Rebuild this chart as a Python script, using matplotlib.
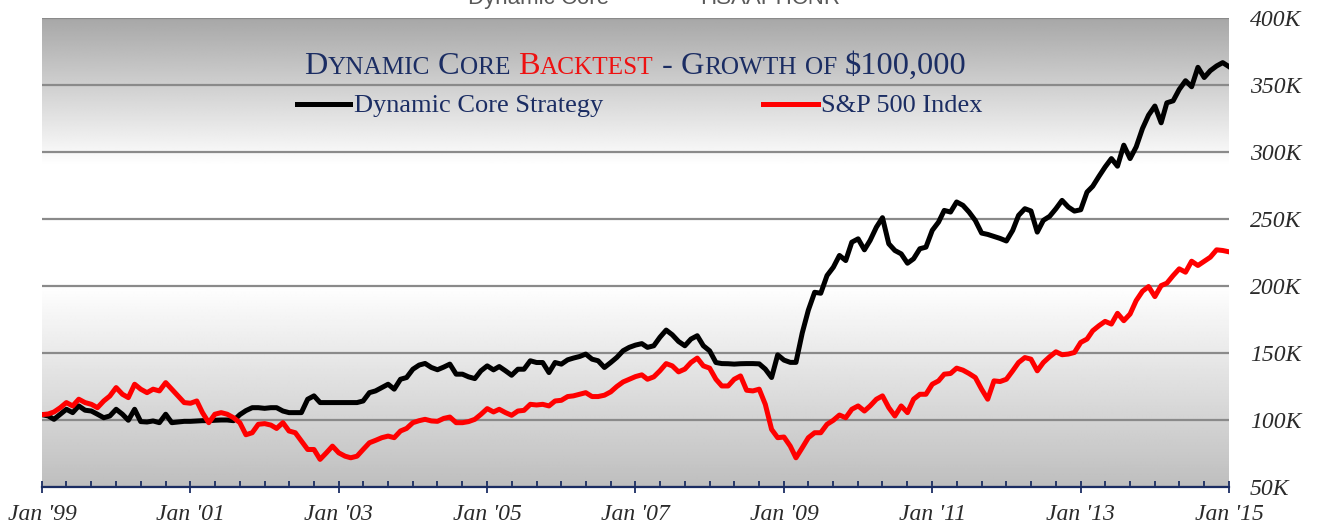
import numpy as np
import pandas as pd
import matplotlib
matplotlib.use("Agg")
import matplotlib.pyplot as plt
import matplotlib.dates as mdates
from matplotlib.ticker import FuncFormatter, FixedLocator
from matplotlib.lines import Line2D

# ---------------- data (values in $K, monthly Jan 1999 .. Jan 2015) ----------------
start_month = "1999-01-01"
dynamic_core = [
    104, 103, 100.5, 104.3, 108, 105.5, 110.5, 107.3, 106.7, 104.3,
    101.7, 103, 108, 104.3, 99.8, 108, 98.8, 98.5, 99.3, 98,
    104.3, 98, 98.5, 99, 99, 99.3, 99.5, 99.5, 99.8, 100,
    100, 99.5, 104, 107, 109.2, 109.2, 108.7, 109.2, 109.2, 106.7,
    105.5, 105.5, 105.5, 115.5, 118, 113, 113, 113, 113, 113,
    113, 113, 114.2, 120.4, 121.7, 124.2, 126.7, 123, 130.4, 131.7,
    137.9, 141, 142.2, 139.2, 137.5, 139.5, 141.7, 134.2, 134.2, 132.2,
    130.9, 136.7, 140.4, 137.4, 139.9, 136.7, 133.4, 137.9, 137.9, 144.2,
    142.9, 142.9, 135.4, 142.9, 141.7, 144.9, 146.2, 147.4, 149.2, 145.4,
    144.2, 139.2, 142.9, 146.7, 151.7, 154.2, 155.9, 157, 154.2, 155.4,
    161.7, 167.1, 163.6, 158.6, 155.4, 160.4, 162.9, 155.4, 151.6, 142.9,
    142.1, 142, 141.7, 142, 142.1, 142.1, 141.9, 138, 131.7, 148.6,
    144.7, 143, 143, 165, 182, 195.3, 194.6, 207.8, 214, 222.8,
    219, 232.7, 235.2, 227, 234, 243.9, 251, 231.5, 226.5, 224,
    217, 220.3, 227.8, 229, 241.5, 247.7, 256.4, 255.2, 262.7, 260.2,
    255.2, 248.9, 239.5, 238.5, 237, 235.5, 233.6, 241.5, 252.7, 257.7,
    256, 240.2, 249, 252, 257.7, 263.9, 258.9, 255.9, 256.9, 270.1,
    274.4, 281.9, 288.8, 295.1, 289.4, 305.1, 295.1, 303.8, 317.5, 327.5,
    334.3, 321.8, 336.7, 338.2, 346.7, 353.2, 348.7, 363.2, 355.6, 360.7,
    364.2, 366.7, 363.7,
]
sp500 = [
    104, 104.5, 106, 109.2, 113, 110.5, 115.5, 113, 111.7, 109.2,
    114.2, 117.9, 124.2, 119.2, 116.7, 126.7, 123, 120.4, 123, 121.7,
    127.9, 123, 118, 113, 112.5, 114.2, 105.5, 98, 104.3, 105.5,
    104.3, 101.7, 98, 89, 90.5, 96.8, 97.3, 96.2, 93.7, 98,
    91.8, 90.5, 84.3, 78, 78, 70.6, 75.5, 80.5, 75.5, 73,
    71.8, 73, 78, 83, 84.8, 86.8, 88, 86.8, 91.8, 93.7,
    98, 99.5, 100.5, 99.3, 99, 101.2, 102.2, 98, 98, 98.8,
    100.5, 104.2, 108.5, 106, 108, 105.5, 103.5, 106.7, 107.2, 111.7,
    111.2, 111.7, 110.5, 114.2, 114.7, 117.5, 118, 119.2, 120.4, 117.5,
    117.5, 118.5, 121, 125, 128.4, 130.4, 132.4, 133.7, 130.4, 132.2,
    136.7, 142.1, 140.4, 135.9, 138, 142.9, 146.2, 140.4, 138.7, 130.4,
    125.4, 125.4, 130.4, 132.9, 122.2, 121.7, 123, 111.7, 93, 86.8,
    87.3, 80.5, 71.8, 79.3, 86.8, 90.5, 90.5, 96.8, 99.8, 103.7,
    101.7, 108, 110.5, 106.7, 110.5, 115.5, 118, 109.2, 103, 110.5,
    105.5, 115.5, 119.2, 119.2, 126.7, 129.2, 134.2, 134.7, 138.7, 137.2,
    134.7, 131.7, 123, 115.5, 129.2, 128.7, 130.4, 136.7, 142.9, 146.6,
    145.4, 136.7, 142.9, 147.2, 150.9, 148.7, 149.2, 150.4, 157.9, 160.4,
    166.6, 170.4, 173.6, 171.6, 179.6, 174.1, 179.1, 189.1, 196.1, 199.6,
    192.1, 200.3, 202.1, 207.8, 212.8, 210.3, 218.5, 215.3, 218.5, 221.5,
    227, 226.5, 225.5,
]
series_names = ["Dynamic Core Strategy", "S&P 500 Index"]
y_ticks = [50, 100, 150, 200, 250, 300, 350, 400]
title_parts = [("D", "b", "n"), ("YNAMIC", "s", "n"), (" ", "b", "n"),
               ("C", "b", "n"), ("ORE", "s", "n"), (" ", "b", "n"),
               ("B", "b", "r"), ("ACKTEST", "s", "r"), (" ", "b", "n"),
               ("-", "b", "n"), (" ", "b", "n"),
               ("G", "b", "n"), ("ROWTH", "s", "n"), (" ", "b", "n"),
               ("OF", "s", "n"), (" ", "b", "n"), ("$100,000", "b", "n")]

dates = pd.date_range(start_month, periods=len(dynamic_core), freq="MS")
dc = np.array(dynamic_core) * 1000
sp = np.array(sp500) * 1000

# ---------------- figure ----------------
W, H = 1319, 523
fig = plt.figure(figsize=(W / 100, H / 100), dpi=100)
fig.patch.set_facecolor("white")
L, R, T, B = 42, 1229, 18, 487
ax = fig.add_axes([L / W, 1 - B / H, (R - L) / W, (B - T) / H])

NAVY = "#1b2d63"
TXT = "#2b2b2b"
SERIF = ["Liberation Serif", "DejaVu Serif"]

# background gradient
rows = np.arange(T, B + 1)
g = np.interp(rows, [T, 165, 285, B], [0.655, 1.0, 1.0, 0.745])
img = np.repeat(g[:, None], 4, axis=1)
ax.imshow(img, extent=[0, 1, 0, 1], transform=ax.transAxes, aspect="auto",
          cmap="gray", vmin=0, vmax=1, zorder=0, interpolation="bilinear")

ax.plot(dates, dc, color="black", lw=3.6, solid_joinstyle="round", zorder=3)
ax.plot(dates, sp, color="#ff0000", lw=3.6, solid_joinstyle="round", zorder=4)

ax.set_xlim(pd.Timestamp("1999-01-01"), pd.Timestamp("2015-01-01"))
ax.set_ylim(50000, 400000)

for s in ["left", "right", "top"]:
    ax.spines[s].set_visible(False)
ax.spines["bottom"].set_color(NAVY)
ax.spines["bottom"].set_linewidth(1.6)
ax.spines["bottom"].set_zorder(5)

major = pd.date_range("1999-01-01", "2015-01-01", freq="24MS")
minor = pd.date_range("1999-01-01", "2015-01-01", freq="4MS")
ax.xaxis.set_major_locator(FixedLocator(mdates.date2num(major)))
ax.xaxis.set_minor_locator(FixedLocator(mdates.date2num(minor)))
ax.xaxis.set_major_formatter(mdates.DateFormatter("Jan '%y"))
ax.tick_params(axis="x", which="major", direction="inout", length=8.6, width=1.3,
               color=NAVY, pad=8, labelsize=17, labelcolor=TXT)
ax.tick_params(axis="x", which="minor", direction="in", length=4.3, width=1.3,
               color=NAVY)
for lab in ax.get_xticklabels():
    lab.set_fontfamily(SERIF)
    lab.set_fontstyle("italic")

ax.yaxis.tick_right()
ax.set_yticks([v * 1000 for v in y_ticks])
ax.yaxis.set_major_formatter(FuncFormatter(lambda v, p: f"{int(round(v / 1000))}K"))
ax.tick_params(axis="y", length=0, pad=15, labelsize=17, labelcolor=TXT)
for lab in ax.get_yticklabels():
    lab.set_fontfamily(SERIF)
    lab.set_fontstyle("italic")
    lab.set_horizontalalignment("left")
ax.grid(axis="y", color="#8a8a8a", lw=1.6, zorder=1)
ax.set_axisbelow(True)

# ---------------- title (small caps) ----------------
renderer = fig.canvas.get_renderer()
BIG, SMALL = 23.3, 18.2
cols = {"n": NAVY, "r": "#ee1111"}
objs = []
total = 0.0
for s, sz, c in title_parts:
    size = BIG if sz == "b" else SMALL
    if s == " ":
        w = 0.25 * size * 100 / 72
        objs.append((None, w))
    else:
        t = fig.text(0, 0, s, fontsize=size, color=cols[c], family=SERIF,
                     va="baseline", ha="left")
        w = t.get_window_extent(renderer).width
        objs.append((t, w))
    total += w
cx = (L + R) / 2
x = cx - total / 2
base_y = 1 - 74 / H
for t, w in objs:
    if t is not None:
        t.set_position((x / W, base_y))
    x += w

# ---------------- legend ----------------
ly = 1 - 104 / H
fig.add_artist(Line2D([297 / W, 350 / W], [ly, ly], color="black", lw=3.6,
                      transform=fig.transFigure))
fig.add_artist(Line2D([763 / W, 818 / W], [ly, ly], color="#ff0000", lw=3.6,
                      transform=fig.transFigure))
fig.text(354 / W, 1 - 106 / H, series_names[0], fontsize=19, color=NAVY,
         family=SERIF, va="center", ha="left")
fig.text(821 / W, 1 - 106 / H, series_names[1], fontsize=19, color=NAVY,
         family=SERIF, va="center", ha="left")

# ---------------- cut-off header text above the chart (as in the reference) ----------------
fig.text(468 / W, 1 - 4 / H, "Dynamic Core", fontsize=16, color="#595959",
         family=["Liberation Sans", "DejaVu Sans"], va="baseline", ha="left")
fig.text(700 / W, 1 - 4 / H, "HSAAPHCNR", fontsize=16, color="#595959",
         family=["Liberation Sans", "DejaVu Sans"], va="baseline", ha="left")

fig.savefig("out.png", dpi=100, facecolor="white")
